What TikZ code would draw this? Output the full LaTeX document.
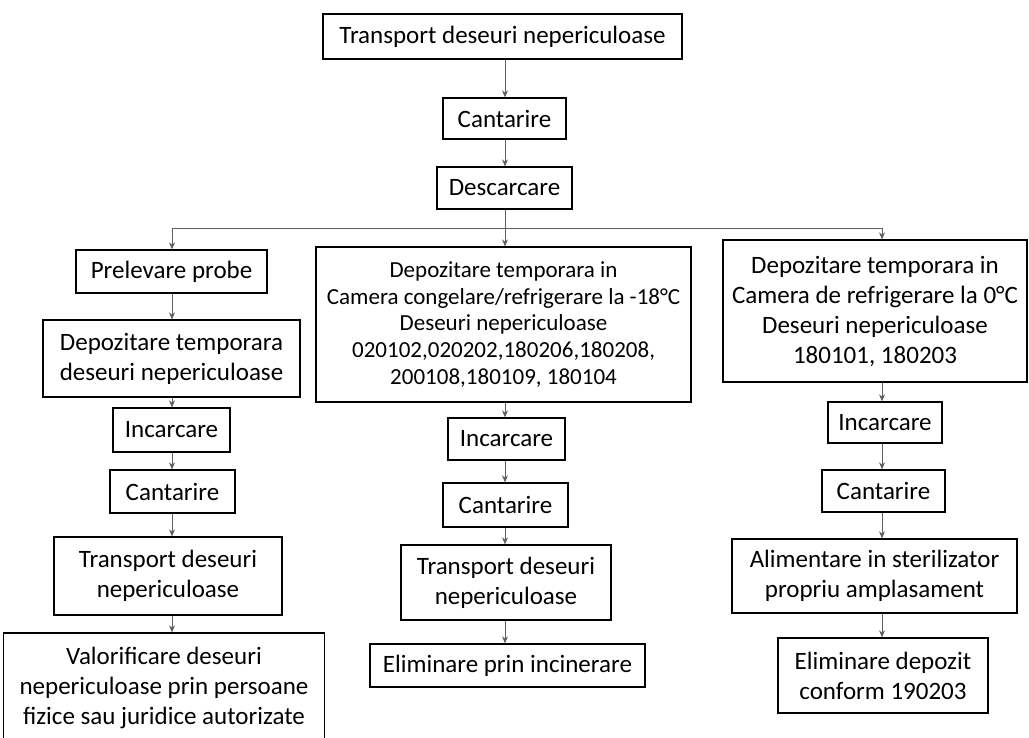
\documentclass[tikz,border=0pt]{standalone}
\usepackage{fontspec}
\setmainfont{Carlito}
\usetikzlibrary{arrows.meta}
\begin{document}
\begin{tikzpicture}[x=1pt,y=-1pt,
  box/.style={draw=black, line width=1.3pt, inner sep=0pt, align=center,
    font=\fontsize{25}{30}\selectfont},
  smallbox/.style={box, font=\fontsize{23}{26.7}\selectfont},
  flow/.style={draw=gray!75!black, line width=0.9pt, -{Stealth[length=7pt,width=6pt]}},
  link/.style={draw=gray!75!black, line width=0.9pt}]
\useasboundingbox (0,0) rectangle (1029,737);
\fill[white] (0,0) rectangle (1029,737);

% top chain
\node[box, minimum width=359pt, minimum height=45pt] (top) at (502.5,36.5) {Transport deseuri nepericuloase};
\node[box, minimum width=123pt, minimum height=41pt] (cant) at (504.5,118.5) {Cantarire};
\node[box, minimum width=135pt, minimum height=42pt] (desc) at (504.5,188) {Descarcare};

% left column
\node[box, minimum width=191pt, minimum height=43pt] (L1) at (171.5,271.5) {Prelevare probe};
\node[box, minimum width=257pt, minimum height=77pt] (L2) at (171.5,358.5) {Depozitare temporara\\deseuri nepericuloase};
\node[box, minimum width=117pt, minimum height=44pt] (L3) at (171.5,430) {Incarcare};
\node[box, minimum width=125pt, minimum height=43pt] (L4) at (172.5,491.5) {Cantarire};
\node[box, minimum width=228pt, minimum height=78pt] (L5) at (168,576) {Transport deseuri\\nepericuloase};
\node[box, minimum width=321pt, minimum height=109pt] (L6) at (164,687.5) {Valorificare deseuri\\nepericuloase prin persoane\\fizice sau juridice autorizate};

% center column
\node[smallbox, minimum width=375pt, minimum height=155pt] (C1) at (503.5,324.5) {Depozitare temporara in\\Camera congelare/refrigerare la -18°C\\Deseuri nepericuloase\\020102,020202,180206,180208,\\200108,180109, 180104};
\node[box, minimum width=117pt, minimum height=42pt] (C2) at (506.5,439) {Incarcare};
\node[box, minimum width=125pt, minimum height=44pt] (C3) at (505.5,505) {Cantarire};
\node[box, minimum width=210pt, minimum height=75pt] (C4) at (506,582.5) {Transport deseuri\\nepericuloase};
\node[box, minimum width=275pt, minimum height=43pt] (C5) at (507.5,665.5) {Eliminare prin incinerare};

% right column
\node[box, minimum width=304pt, minimum height=142pt] (R1) at (875,311) {Depozitare temporara in\\Camera de refrigerare la 0°C\\Deseuri nepericuloase\\180101, 180203};
\node[box, minimum width=114pt, minimum height=41pt] (R2) at (885,422.5) {Incarcare};
\node[box, minimum width=123pt, minimum height=42pt] (R3) at (883.5,491) {Cantarire};
\node[box, minimum width=285pt, minimum height=74pt] (R4) at (874.5,576) {Alimentare in sterilizator\\propriu amplasament};
\node[box, minimum width=210pt, minimum height=75pt] (R5) at (883,675.5) {Eliminare depozit\\conform 190203};

% branch line
\coordinate (bl) at (172,228);
\coordinate (bc) at (505,228);
\coordinate (br) at (882,228);
\draw[link] (bl) -- (br);

% connectors
\draw[flow] (top.south -| bc) -- (cant.north -| bc);
\draw[flow] (cant.south -| bc) -- (desc.north -| bc);
\draw[flow] (desc.south -| bc) -- (C1.north -| bc);
\draw[flow] (bl) -- (L1.north -| bl);
\draw[flow] (br) -- (R1.north -| br);

\draw[flow] (L1.south -| bl) -- (L2.north -| bl);
\draw[flow] (L2.south -| bl) -- (L3.north -| bl);
\draw[flow] (L3.south -| bl) -- (L4.north -| bl);
\draw[flow] (L4.south -| bl) -- (L5.north -| bl);
\draw[flow] (L5.south -| bl) -- (L6.north -| bl);

\draw[flow] (C1.south -| bc) -- (C2.north -| bc);
\draw[flow] (C2.south -| bc) -- (C3.north -| bc);
\draw[flow] (C3.south -| bc) -- (C4.north -| bc);
\draw[flow] (C4.south -| bc) -- (C5.north -| bc);

\draw[flow] (R1.south -| br) -- (R2.north -| br);
\draw[flow] (R2.south -| br) -- (R3.north -| br);
\draw[flow] (R3.south -| br) -- (R4.north -| br);
\draw[flow] (R4.south -| br) -- (R5.north -| br);
\end{tikzpicture}
\end{document}
